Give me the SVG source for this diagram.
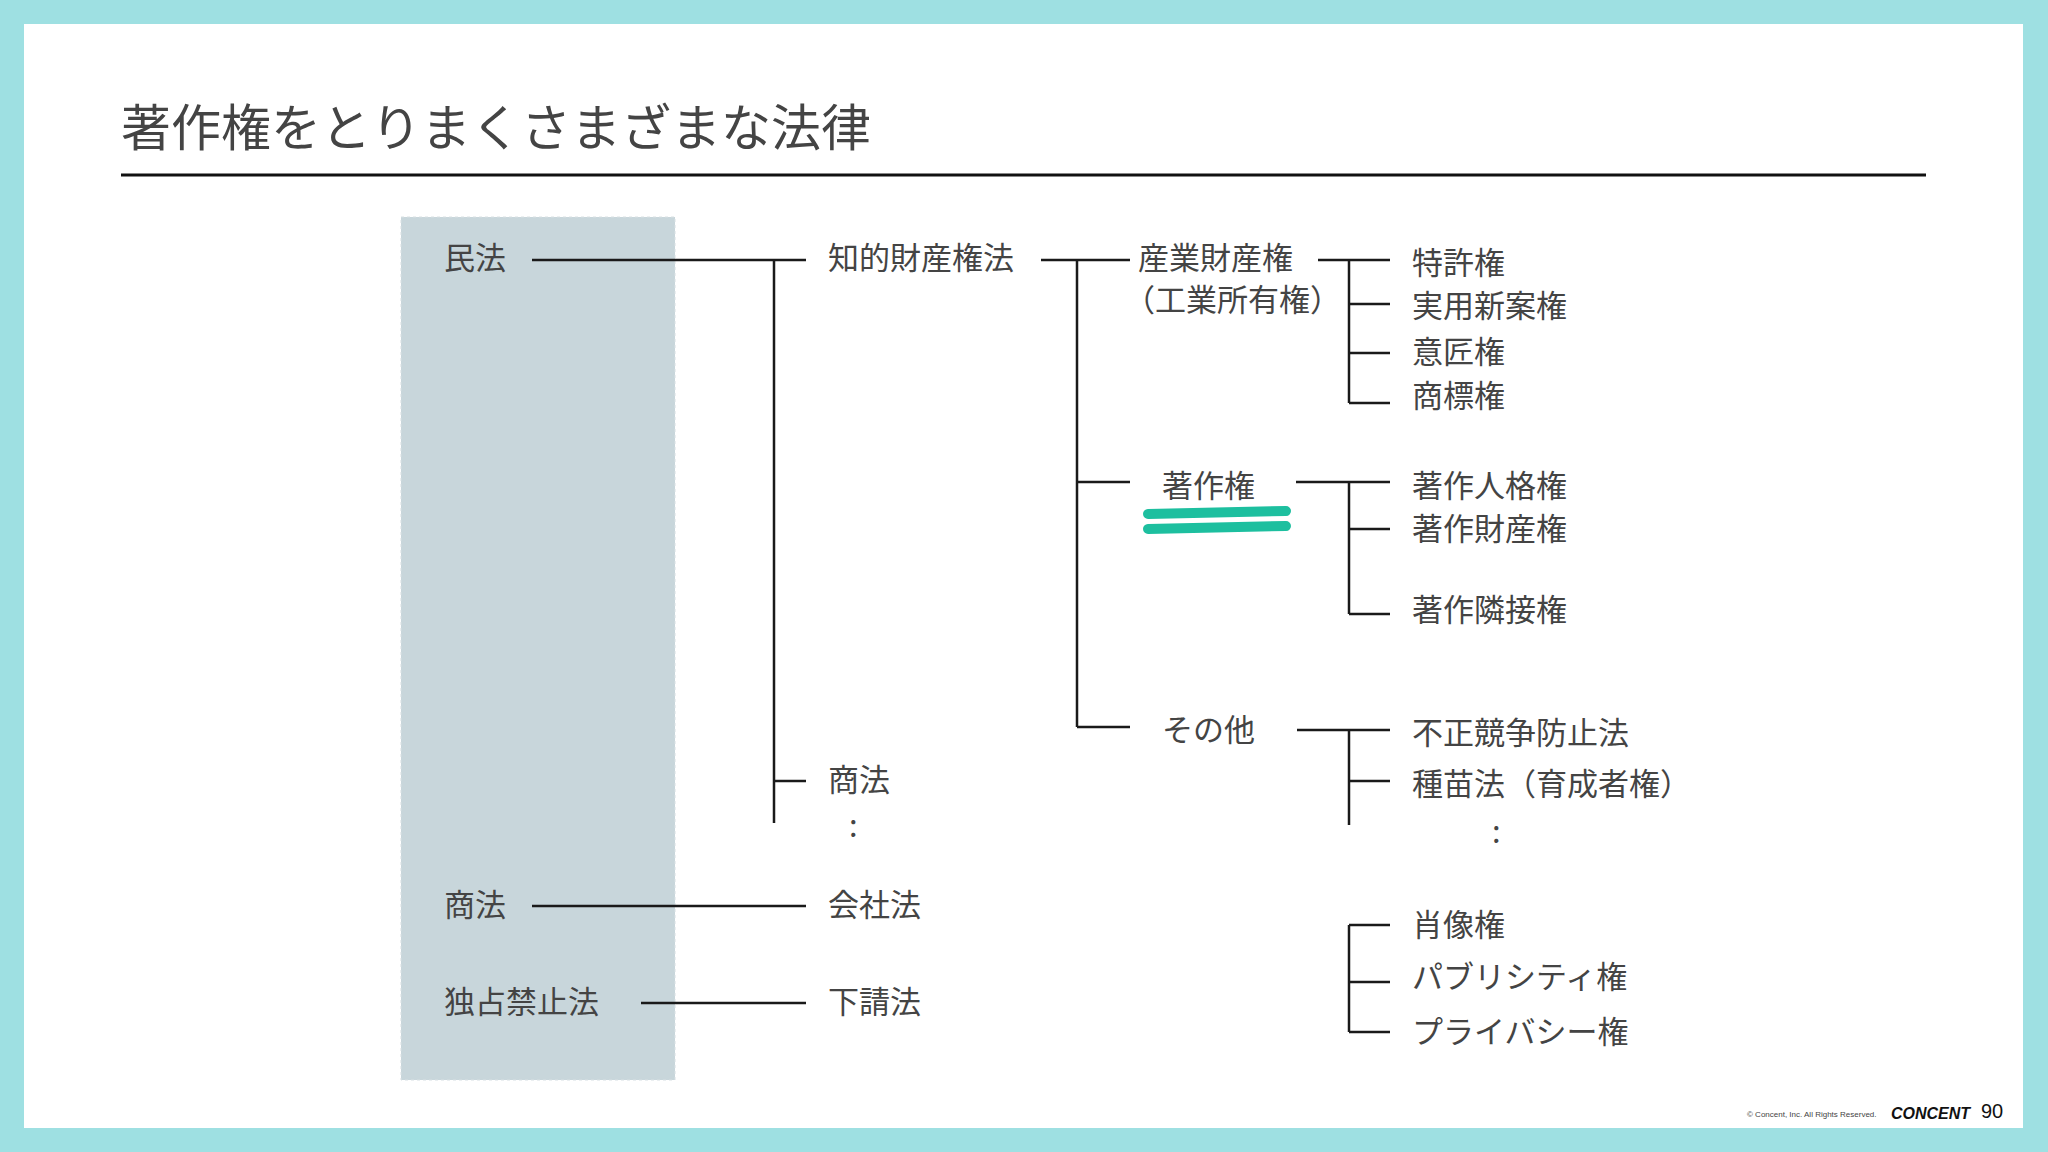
<svg xmlns="http://www.w3.org/2000/svg" width="2048" height="1152" viewBox="0 0 2048 1152">
<style>
.t{font-family:"Noto Sans CJK JP","Noto Sans",sans-serif;font-size:31px;fill:#444;dominant-baseline:central}
.c line{stroke:#1a1a1a;stroke-width:2.5}
</style>
<rect width="2048" height="1152" fill="#9ee0e2"/>
<rect x="24" y="24" width="1999" height="1104" fill="#fff"/>
<text x="121" y="146" font-family="'Noto Sans CJK JP',sans-serif" font-size="50" fill="#444">著作権をとりまくさまざまな法律</text>
<line x1="121" y1="175" x2="1926" y2="175" stroke="#111" stroke-width="3"/>
<rect x="401" y="217" width="274" height="863" fill="#c8d6db" stroke="#d8e0e3" stroke-dasharray="3 3"/>
<g class="c" id="connectors">
<line x1="532" y1="260" x2="806" y2="260"/>
<line x1="774" y1="260" x2="774" y2="823"/>
<line x1="774" y1="781" x2="806" y2="781"/>
<line x1="532" y1="906" x2="806" y2="906"/>
<line x1="641" y1="1003" x2="806" y2="1003"/>
<line x1="1041" y1="260" x2="1130" y2="260"/>
<line x1="1077" y1="260" x2="1077" y2="727"/>
<line x1="1077" y1="482" x2="1130" y2="482"/>
<line x1="1077" y1="727" x2="1130" y2="727"/>
<line x1="1318" y1="260" x2="1390" y2="260"/>
<line x1="1349" y1="260" x2="1349" y2="403"/>
<line x1="1349" y1="304" x2="1390" y2="304"/>
<line x1="1349" y1="353" x2="1390" y2="353"/>
<line x1="1349" y1="403" x2="1390" y2="403"/>
<line x1="1296" y1="482" x2="1390" y2="482"/>
<line x1="1349" y1="482" x2="1349" y2="614"/>
<line x1="1349" y1="529" x2="1390" y2="529"/>
<line x1="1349" y1="614" x2="1390" y2="614"/>
<line x1="1297" y1="730" x2="1390" y2="730"/>
<line x1="1349" y1="730" x2="1349" y2="825"/>
<line x1="1349" y1="781" x2="1390" y2="781"/>
<line x1="1349" y1="925" x2="1390" y2="925"/>
<line x1="1349" y1="925" x2="1349" y2="1032"/>
<line x1="1349" y1="982" x2="1390" y2="982"/>
<line x1="1349" y1="1032" x2="1390" y2="1032"/>
</g>
<g id="minpo"><text class="t" x="444" y="255">民法</text></g>
<g id="shoho1"><text class="t" x="444" y="902">商法</text></g>
<g id="dokusen"><text class="t" x="444" y="999">独占禁止法</text></g>
<g id="chiteki"><text class="t" x="828" y="255">知的財産権法</text></g>
<g id="shoho2"><text class="t" x="828" y="777">商法</text><text class="t" x="849" y="823">:</text></g>
<g id="kaisha"><text class="t" x="828" y="902">会社法</text></g>
<g id="shitauke"><text class="t" x="828" y="999">下請法</text></g>
<g id="sangyo"><text class="t" x="1138" y="255">産業財産権</text><text class="t" x="1124" y="297">（工業所有権）</text></g>
<g id="chosaku"><text class="t" x="1162" y="483">著作権</text>
<path d="M1148 514 L1286 511 M1148 529 L1286 526" stroke="#1dbf9f" stroke-width="10" stroke-linecap="round" fill="none"/></g>
<g id="sonota"><text class="t" x="1162" y="727">その他</text></g>
<g id="c1"><text class="t" x="1412" y="260">特許権</text></g>
<g id="c2"><text class="t" x="1412" y="303">実用新案権</text></g>
<g id="c3"><text class="t" x="1412" y="349">意匠権</text></g>
<g id="c4"><text class="t" x="1412" y="393">商標権</text></g>
<g id="c5"><text class="t" x="1412" y="483">著作人格権</text></g>
<g id="c6"><text class="t" x="1412" y="526">著作財産権</text></g>
<g id="c7"><text class="t" x="1412" y="607">著作隣接権</text></g>
<g id="c8"><text class="t" x="1412" y="730">不正競争防止法</text></g>
<g id="c9"><text class="t" x="1412" y="781">種苗法（育成者権）</text><text class="t" x="1492" y="829">:</text></g>
<g id="c10"><text class="t" x="1412" y="922">肖像権</text></g>
<g id="c11"><text class="t" x="1412" y="974">パブリシティ権</text></g>
<g id="c12"><text class="t" x="1412" y="1029">プライバシー権</text></g>
<text x="1747" y="1117" font-family="'Liberation Sans',sans-serif" font-size="8" fill="#444">© Concent, Inc. All Rights Reserved.</text>
<text x="1891" y="1119" font-family="'Liberation Sans',sans-serif" font-size="16" font-weight="bold" font-style="italic" fill="#111">CONCENT</text>
<text x="1981" y="1118" font-family="'Liberation Sans',sans-serif" font-size="20" fill="#111">90</text>
</svg>
